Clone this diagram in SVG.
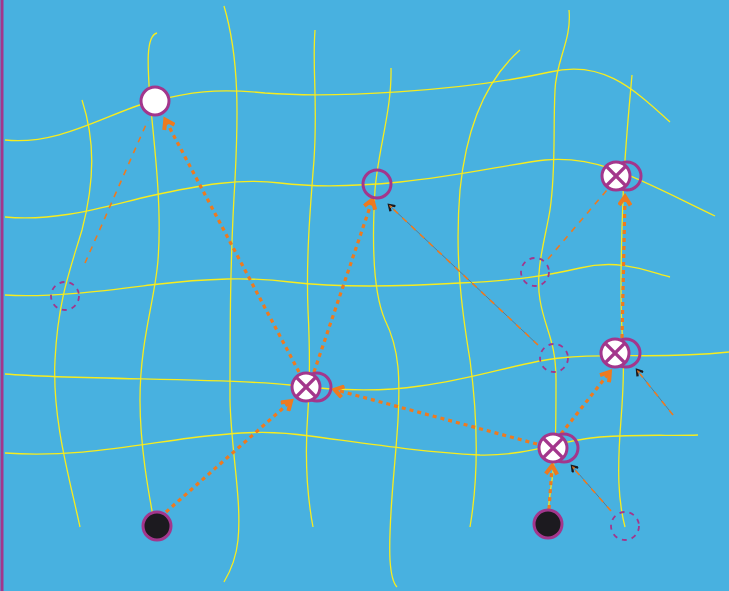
<svg xmlns="http://www.w3.org/2000/svg" width="729" height="591" viewBox="0 0 729 591">
<defs>
<style>
.bg{fill:#48B1E0}
.y{fill:none;stroke:#F7EC1E;stroke-width:1.3}
.ring{fill:none;stroke:#A3368C;stroke-width:3}
.wn{fill:#fff;stroke:#A3368C;stroke-width:3}
.bn{fill:#1C1A1F;stroke:#A3368C;stroke-width:3}
.x{stroke:#A3368C;stroke-width:3.2}
.dc{fill:none;stroke:#A3368C;stroke-width:1.8;stroke-dasharray:5 5}
.ta{fill:none;stroke:#EE7A1F;stroke-width:3.2;stroke-dasharray:4 4;marker-end:url(#oa)}
.tn{fill:none;stroke:#EE7A1F;stroke-width:1.6;stroke-dasharray:6 6}
.tg{fill:none;stroke:#5A6E80;stroke-width:0.8}
</style>
<marker id="oa" viewBox="0 0 10 10" refX="6" refY="5" markerWidth="4.5" markerHeight="4.5" orient="auto" markerUnits="strokeWidth">
<path d="M1,1 L7,5 L1,9" fill="none" stroke="#EE7A1F" stroke-width="2.8"/>
</marker>
<marker id="ka" viewBox="0 0 10 10" refX="7" refY="5" markerWidth="9" markerHeight="9" orient="auto" markerUnits="userSpaceOnUse">
<path d="M1,1 L7,5 L1,9" fill="none" stroke="#1C1A1F" stroke-width="2.6"/>
<path d="M3,4 L6,5 L3,6" fill="none" stroke="#EE7A1F" stroke-width="1"/>
</marker>
<g id="xnode">
<circle cx="11" cy="0" r="14" class="ring"/>
<circle cx="0" cy="0" r="14" class="wn"/>
<line x1="-10" y1="-10" x2="10" y2="10" class="x"/>
<line x1="-10" y1="10" x2="10" y2="-10" class="x"/>
</g>
</defs>
<rect class="bg" x="0" y="0" width="729" height="591"/>
<line x1="2" y1="0" x2="2" y2="591" stroke="#A3368C" stroke-width="3"/>
<g id="grid">
<path class="y" d="M5,140 C60,146 110,112 150,102 C190,92 215,88 265,93 C330,98 460,92 550,72 C600,60 630,85 670,122"/>
<path class="y" d="M5,217 C60,222 110,205 150,196 C200,185 240,178 280,183 C320,188 360,186 400,182 C460,176 510,164 545,160 C600,155 640,180 715,216"/>
<path class="y" d="M5,295 C50,298 110,290 150,285 C210,278 250,277 290,282 C340,288 410,286 460,283 C520,280 545,276 580,268 C620,258 650,272 670,277"/>
<path class="y" d="M5,374 C80,380 230,378 290,385 C330,390 380,392 420,386 C480,378 520,362 560,358 C620,352 650,360 729,352"/>
<path class="y" d="M5,453 C70,458 130,446 190,438 C240,432 270,430 310,436 C370,444 420,452 480,455 C530,456 560,440 600,437 C640,434 670,436 698,435"/>
<path class="y" d="M82,100 C95,140 95,180 82,230 C70,270 58,300 55,360 C52,420 70,480 80,527"/>
<path class="y" d="M157,33 C145,36 148,70 150,100 C155,150 162,210 158,260 C155,300 140,340 140,400 C140,450 150,500 155,527"/>
<path class="y" d="M224,6 C240,60 238,120 235,180 C230,260 230,330 230,400 C231,450 242,500 238,540 C236,560 230,572 224,582"/>
<path class="y" d="M315,30 C312,70 318,100 314,160 C310,210 306,260 308,310 C310,350 310,380 308,410 C305,450 306,490 313,527"/>
<path class="y" d="M391,68 C392,110 378,150 375,190 C372,240 372,290 385,320 C400,350 400,380 398,420 C395,470 388,520 390,560 C391,575 393,583 397,587"/>
<path class="y" d="M520,50 C480,85 465,140 460,190 C455,250 460,300 470,360 C478,420 478,480 470,527"/>
<path class="y" d="M569,10 C572,40 556,60 555,90 C553,130 556,170 550,210 C545,240 535,270 540,300 C545,330 556,340 556,380 C556,420 556,450 552,480 C549,500 547,515 548,527"/>
<path class="y" d="M632,75 C628,120 624,160 623,200 C621,250 620,290 622,330 C624,360 624,380 621,420 C617,470 618,500 625,527"/>
</g>
<g id="connectors">
<path class="ta" d="M166,512 L290,402"/>
<path class="ta" d="M299,372 L166,121"/>
<path class="ta" d="M314,372 L372,201"/>
<path class="ta" d="M537,444 L336,390"/>
<path class="ta" d="M549,509 L552,467"/>
<path class="ta" d="M561,434 L609,373"/>
<path class="ta" d="M622,338 L625,198"/>
<path class="tn" d="M85,263 L148,120"/>
<path class="tn" d="M548,259 L607,190"/>
<path class="tg" d="M538,345 L389,205" marker-end="url(#ka)"/>
<path class="tn" d="M538,345 L392,208"/>
<path class="tg" d="M673,415 L637,370" marker-end="url(#ka)"/>
<path class="tn" d="M673,415 L640,374"/>
<path class="tg" d="M611,511 L572,466" marker-end="url(#ka)"/>
<path class="tn" d="M611,511 L575,470"/>
</g>
<g id="n-a"><circle cx="155" cy="101" r="14" class="wn"/></g>
<g id="n-c"><circle cx="377" cy="184" r="14" class="ring"/></g>
<g id="n-b"><use href="#xnode" x="306" y="387"/></g>
<g id="n-d"><use href="#xnode" x="616" y="176"/></g>
<g id="n-e"><use href="#xnode" x="615" y="353"/></g>
<g id="n-f"><use href="#xnode" x="553" y="448"/></g>
<g id="n-g"><circle cx="157" cy="526" r="14" class="bn"/></g>
<g id="n-h"><circle cx="548" cy="524" r="14" class="bn"/></g>
<g id="d1"><circle cx="65" cy="296" r="14" class="dc"/></g>
<g id="d2"><circle cx="535" cy="272" r="14" class="dc"/></g>
<g id="d3"><circle cx="554" cy="358" r="14" class="dc"/></g>
<g id="d4"><circle cx="625" cy="526" r="14" class="dc"/></g>
</svg>
